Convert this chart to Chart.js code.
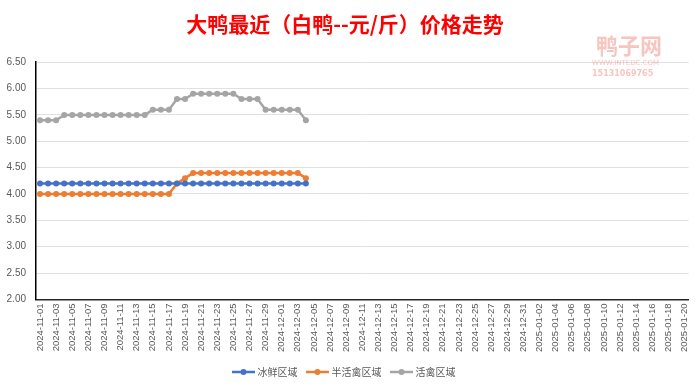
<!DOCTYPE html>
<html><head><meta charset="utf-8">
<script src="https://cdn.jsdelivr.net/npm/chart.js@4"></script>
<style>html,body{margin:0;padding:0;background:#fff}#wrap{width:700px;height:387px}</style>
</head><body><div id="wrap"><canvas id="c" width="700" height="387"></canvas></div>
<script>
function buildDates(start, end){
  const out=[]; const d=new Date(start+'T00:00:00Z'); const e=new Date(end+'T00:00:00Z');
  while(d<=e){ out.push(d.toISOString().slice(0,10)); d.setUTCDate(d.getUTCDate()+1); }
  return out;
}
const categories = buildDates('2024-11-01','2025-01-20');
const seriesNames = ['冰鲜区域','半活禽区域','活禽区域'];
const frozen = [4.2,4.2,4.2,4.2,4.2,4.2,4.2,4.2,4.2,4.2,4.2,4.2,4.2,4.2,4.2,4.2,4.2,4.2,4.2,4.2,4.2,4.2,4.2,4.2,4.2,4.2,4.2,4.2,4.2,4.2,4.2,4.2,4.2,4.2];
const semiLive = [4.0,4.0,4.0,4.0,4.0,4.0,4.0,4.0,4.0,4.0,4.0,4.0,4.0,4.0,4.0,4.0,4.0,4.2,4.3,4.4,4.4,4.4,4.4,4.4,4.4,4.4,4.4,4.4,4.4,4.4,4.4,4.4,4.4,4.3];
const live = [5.4,5.4,5.4,5.5,5.5,5.5,5.5,5.5,5.5,5.5,5.5,5.5,5.5,5.5,5.6,5.6,5.6,5.8,5.8,5.9,5.9,5.9,5.9,5.9,5.9,5.8,5.8,5.8,5.6,5.6,5.6,5.6,5.6,5.4];
const yTicks = [2.0,2.5,3.0,3.5,4.0,4.5,5.0,5.5,6.0,6.5];
const colors = ['#4472C4','#ED7D31','#A5A5A5'];
const titleText = '大鸭最近（白鸭--元/斤）价格走势';

function legendIcon(color){
  const cv=document.createElement('canvas'); cv.width=23; cv.height=10;
  const g=cv.getContext('2d');
  g.strokeStyle=color; g.lineWidth=2.5; g.beginPath(); g.moveTo(0,5); g.lineTo(23,5); g.stroke();
  g.fillStyle=color; g.beginPath(); g.arc(11.5,5,3,0,Math.PI*2); g.fill();
  return cv;
}

const watermark = {
  id:'watermark',
  beforeDatasetsDraw(chart){
    const c=chart.ctx; c.save();
    c.fillStyle='rgba(240,150,140,0.55)';
    c.font='bold 22px "Noto Sans CJK SC"'; c.textBaseline='middle'; c.textAlign='left';
    c.fillText('鸭子网',596,46);
    c.font='7px "DejaVu Sans"'; c.fillText('WWW.INTEDC.COM',592,63);
    c.font='bold 8px "DejaVu Sans"'; c.fillText('15131069765',592,74);
    c.restore();
  }
};

const ds = [frozen, semiLive, live].map((arr,i)=>({
  label: seriesNames[i], data: arr, borderColor: colors[i], backgroundColor: colors[i],
  borderWidth: 2.5, pointRadius: 3, pointHoverRadius: 3, pointBorderWidth: 0, tension: 0
}));

new Chart(document.getElementById('c'), {
  type:'line',
  data:{ labels: categories, datasets: ds },
  options:{
    responsive:false, animation:false, devicePixelRatio:1,
    layout:{ padding:{ left:0, right:10, top:0, bottom:0 } },
    plugins:{
      title:{ display:true, text:titleText, color:'#FF0000',
        font:{ family:'"Noto Sans CJK SC"', size:21, weight:'bold' }, padding:{top:11, bottom:26} },
      legend:{ position:'bottom',
        labels:{ usePointStyle:true, pointStyleWidth:18, color:'#595959', font:{ family:'"Noto Sans CJK SC"', size:10 },
          boxHeight:10, padding:11,
          generateLabels(chart){
            return chart.data.datasets.map((d,i)=>({ text:d.label, pointStyle:legendIcon(colors[i]),
              fillStyle:colors[i], strokeStyle:colors[i], lineWidth:0, fontColor:'#595959', datasetIndex:i, hidden:false }));
          } } },
      tooltip:{ enabled:false }
    },
    scales:{
      x:{ type:'category', offset:true,
        grid:{ display:false, drawTicks:false },
        border:{ display:true, color:'#262626', width:1.5 },
        ticks:{ autoSkip:false, maxRotation:90, minRotation:90, color:'#595959', padding:4,
          font:{ family:'"Liberation Sans"', size:9.5 },
          callback(v,i){ return i%2===0 ? categories[i] : ''; } } },
      y:{ min:2, max:6.5,
        afterFit(s){ s.width=36; },
        afterBuildTicks(s){ s.ticks = yTicks.map(v=>({value:v})); },
        grid:{ color:'#E0E0E0', lineWidth:1, drawTicks:false },
        border:{ display:true, color:'#000000', width:1.5 },
        ticks:{ color:'#595959', padding:10, font:{ family:'"Liberation Sans"', size:10 },
          callback(v){ return Number(v).toFixed(2); } } }
    }
  },
  plugins:[watermark]
});
</script></body></html>
